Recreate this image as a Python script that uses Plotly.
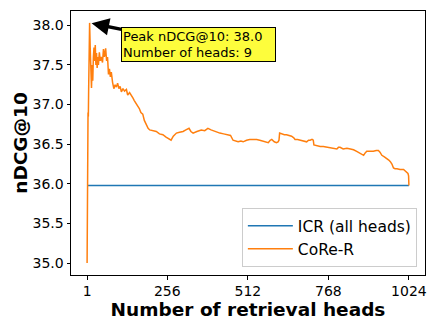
import plotly.graph_objects as go

# number of retrieval heads and nDCG@10
heads = [1, 2, 3, 4, 5, 6, 7, 8, 9, 11, 13, 15, 17, 19, 21, 23, 25, 27, 29, 31,
         33, 35, 37, 40, 43, 46, 50, 53, 56, 60, 63, 66, 69, 72, 75, 78, 82, 86, 90, 94,
         98, 102, 106, 110, 115, 120, 126, 130, 136, 142, 147, 151, 156, 161, 167, 172, 178, 183, 189, 195,
         200, 210, 221, 231, 242, 252, 262, 268, 275, 285, 295, 306, 315, 325, 331, 338, 350, 364, 375, 385,
         395, 407, 415, 423, 435, 449, 457, 465, 473, 481, 490, 497, 508, 518, 529, 540, 550, 560, 570, 577,
         583, 588, 596, 603, 608, 611, 613, 620, 628, 635, 643, 651, 658, 662, 670, 683, 692, 699, 705, 710,
         716, 720, 722, 732, 742, 752, 763, 773, 784, 795, 800, 805, 815, 827, 838, 848, 858, 869, 875, 880,
         885, 890, 900, 911, 920, 927, 932, 938, 946, 954, 960, 965, 970, 975, 980, 986, 996, 1007, 1013, 1018,
         1021, 1023, 1024]
core_r = [35.00, 35.90, 36.50, 36.90, 36.85, 37.20, 37.60, 37.90, 38.03, 37.70, 37.35, 37.21, 37.50, 37.30, 37.60, 37.72, 37.55, 37.75, 37.50, 37.65,
          37.46, 37.60, 37.50, 37.66, 37.55, 37.60, 37.53, 37.70, 37.60, 37.71, 37.55, 37.60, 37.38, 37.45, 37.35, 37.41, 37.28, 37.20, 37.25, 37.22,
          37.27, 37.20, 37.23, 37.16, 37.20, 37.17, 37.19, 37.12, 37.15, 37.10, 37.08, 37.05, 37.02, 37.00, 36.95, 36.90, 36.88, 36.80, 36.74, 36.70,
          36.68, 36.67, 36.66, 36.63, 36.62, 36.59, 36.57, 36.55, 36.60, 36.64, 36.65, 36.66, 36.68, 36.70, 36.66, 36.64, 36.66, 36.68, 36.67, 36.70,
          36.68, 36.66, 36.65, 36.64, 36.63, 36.62, 36.61, 36.55, 36.54, 36.53, 36.54, 36.53, 36.55, 36.56, 36.56, 36.56, 36.55, 36.54, 36.53, 36.52,
          36.55, 36.56, 36.53, 36.52, 36.53, 36.55, 36.64, 36.63, 36.62, 36.62, 36.61, 36.60, 36.58, 36.56, 36.56, 36.55, 36.54, 36.53, 36.55, 36.55,
          36.56, 36.55, 36.49, 36.48, 36.47, 36.47, 36.46, 36.46, 36.45, 36.44, 36.46, 36.46, 36.44, 36.45, 36.44, 36.43, 36.41, 36.39, 36.37, 36.36,
          36.39, 36.41, 36.41, 36.41, 36.42, 36.42, 36.40, 36.36, 36.34, 36.32, 36.30, 36.28, 36.25, 36.20, 36.19, 36.19, 36.18, 36.18, 36.16, 36.14,
          36.13, 36.10, 35.98]

icr_heads = [1, 1024]
icr_all = [35.98, 35.98]

x_ticks = [1, 256, 512, 768, 1024]
y_ticks = [35.0, 35.5, 36.0, 36.5, 37.0, 37.5, 38.0]

peak_i = core_r.index(max(core_r))
peak_h, peak_v = heads[peak_i], core_r[peak_i]

fig = go.Figure()
fig.add_trace(go.Scatter(x=icr_heads, y=icr_all, mode='lines', name='ICR (all heads)',
                         line=dict(color='#1f77b4', width=1.5)))
fig.add_trace(go.Scatter(x=heads, y=core_r, mode='lines', name='CoRe-R',
                         line=dict(color='#ff7f0e', width=1.5)))

fig.add_annotation(x=peak_h, y=peak_v, xref='x', yref='y',
                   text='Peak nDCG@10: %.1f<br>Number of heads: %d' % (peak_v, peak_h),
                   align='left', showarrow=True, arrowhead=2, arrowsize=1, arrowwidth=3.5,
                   arrowcolor='black', standoff=2, ax=109, ay=22,
                   width=151, height=31,
                   bgcolor='#fdfd3c', bordercolor='black', borderwidth=1, borderpad=1,
                   font=dict(family='DejaVu Sans', size=13, color='black'))

axis_common = dict(showline=True, mirror=True, linecolor='black', linewidth=1,
                   ticks='outside', ticklen=3.5, tickcolor='black', showgrid=False,
                   zeroline=False, automargin=False,
                   tickfont=dict(family='DejaVu Sans', size=14, color='black'))

fig.update_xaxes(range=[-50.15, 1075.15], tickvals=x_ticks,
                 title=dict(text='<b>Number of retrieval heads</b>', standoff=0,
                            font=dict(family='DejaVu Sans', size=18.5, color='black')),
                 **axis_common)
fig.update_yaxes(range=[34.85, 38.18], tickvals=y_ticks, tickformat='.1f',
                 title=dict(text='<b>nDCG@10</b>', standoff=0,
                            font=dict(family='DejaVu Sans', size=18.5, color='black')),
                 **axis_common)

fig.update_layout(width=438, height=329, margin=dict(l=71, r=13, t=11, b=54),
                  plot_bgcolor='white', paper_bgcolor='white',
                  legend=dict(x=0.977, y=0.03, xanchor='right', yanchor='bottom', itemwidth=45,
                              bgcolor='rgba(255,255,255,0.8)', bordercolor='#cccccc', borderwidth=1,
                              font=dict(family='DejaVu Sans', size=15.5, color='black')))

fig.write_html('out.html', config={'displayModeBar': False},
               post_script="document.body.style.margin='0';")
